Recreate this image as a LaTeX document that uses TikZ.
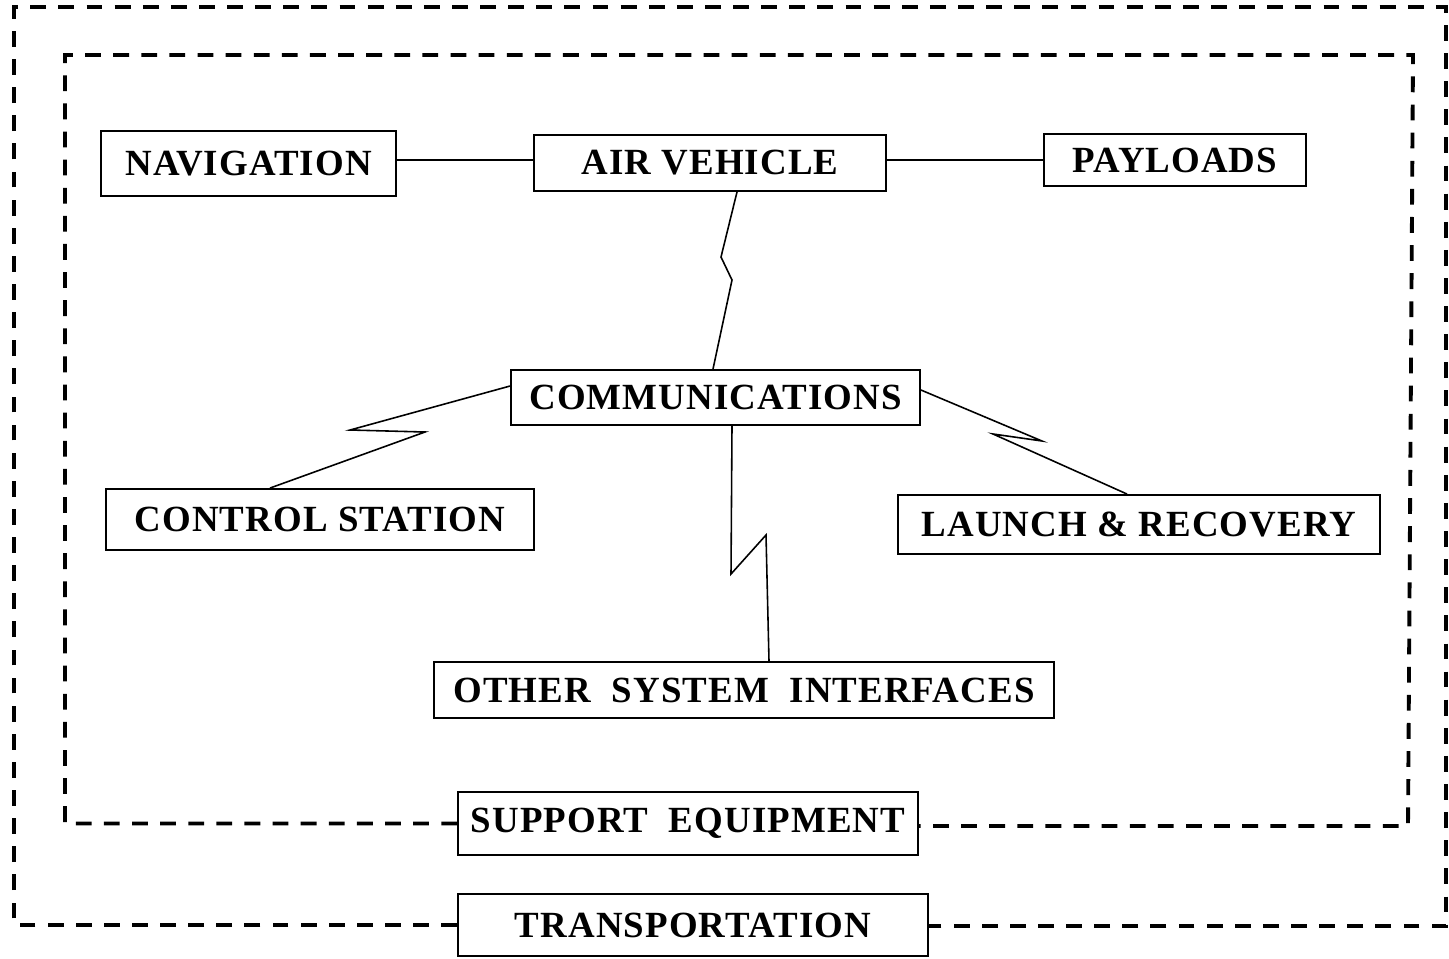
\documentclass[tikz,border=0pt]{standalone}
\usepackage{fontspec}
\setmainfont{Liberation Serif}[LetterSpace=3]
\usetikzlibrary{calc}
\tikzset{
  box/.style={draw, line width=1.1pt, inner sep=0pt, font=\bfseries\fontsize{21}{24}\selectfont},
  link/.style={line width=0.9pt, line join=miter},
  dashbox/.style={line width=2.2pt, dash pattern=on 9pt off 7pt}
}
\begin{document}
\begin{tikzpicture}[x=0.02cm,y=-0.02cm]
\useasboundingbox (0,0) rectangle (1449,958);
% boxes
\node[box, minimum width=5.9cm, minimum height=1.3cm] (nav) at (248.5,163.5) {NAVIGATION};
\node[box, minimum width=7.04cm, minimum height=1.12cm] (air) at (710,163) {AIR VEHICLE};
\node[box, minimum width=5.24cm, minimum height=1.04cm] (pay) at (1175,160) {PAYLOADS};
\node[box, minimum width=8.18cm, minimum height=1.1cm] (comm) at (715.5,397.5) {COMMUNICATIONS};
\node[box, minimum width=8.56cm, minimum height=1.22cm] (ctrl) at (320,519.5) {CONTROL STATION};
\node[box, minimum width=9.64cm, minimum height=1.18cm] (launch) at (1139,524.5) {LAUNCH \& RECOVERY};
\node[box, minimum width=12.4cm, minimum height=1.12cm] (other) at (744,690) {OTHER\ \ SYSTEM\ \ INTERFACES};
\node[box, minimum width=9.2cm, minimum height=1.26cm] (support) at (688,823.5) {SUPPORT\ \ EQUIPMENT};
\node[box, minimum width=9.4cm, minimum height=1.24cm] (transp) at (693,925) {TRANSPORTATION};
% straight links
\draw[link] (nav.east |- 0,160) -- (air.west |- 0,160);
\draw[link] (air.east |- 0,160) -- (pay.west |- 0,160);
% zigzag links
\draw[link] ([xshift=0.54cm]air.south) -- (721,257) -- (732,280) -- ([xshift=-0.05cm]comm.north);
\draw[link] ([yshift=0.23cm]comm.west) -- (350,430) -- (425,432) -- ([xshift=-1cm]ctrl.north);
\draw[link] ([yshift=0.15cm]comm.east) -- (1042,441) -- (993,434) -- ([xshift=-0.24cm]launch.north);
\draw[link] ([xshift=0.33cm]comm.south) -- (731,574) -- (766,535) -- ([xshift=0.5cm]other.north);
% dashed enclosures
\draw[dashbox] (support.west) -- (65,823.5) -- (65,55) -- (1413,55) -- (1408,826) -- (support.east |- 0,826);
\draw[dashbox] (transp.west) -- (14,925) -- (14,7) -- (1446,7) -- (1446,926) -- (transp.east |- 0,926);
\end{tikzpicture}
\end{document}
